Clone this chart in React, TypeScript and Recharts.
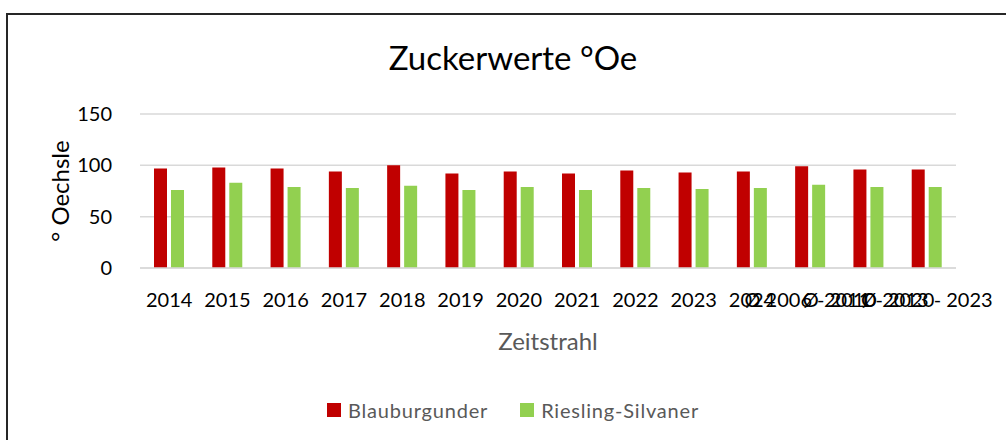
import { BarChart, Bar, XAxis, YAxis, CartesianGrid } from "recharts";

const categories = [
  "2014", "2015", "2016", "2017", "2018", "2019", "2020",
  "2021", "2022", "2023", "2024",
  "Ø 2006 - 2010", "Ø 2011 - 2020", "Ø 2013 - 2023",
];
const blauburgunder = [97, 98, 97, 94, 100, 92, 94, 92, 95, 93, 94, 99, 96, 96];
const rieslingSilvaner = [76, 83, 79, 78, 80, 76, 79, 76, 78, 77, 78, 81, 79, 79];
const yTicks = [0, 50, 100, 150];

const series = [
  { key: "blauburgunder", name: "Blauburgunder", color: "#c00000" },
  { key: "rieslingSilvaner", name: "Riesling-Silvaner", color: "#92d050" },
];

const font = "Lato, 'Open Sans', sans-serif";

export default function App() {
  const data = categories.map((c, i) => ({
    category: c,
    blauburgunder: blauburgunder[i],
    rieslingSilvaner: rieslingSilvaner[i],
  }));

  return (
    <div
      style={{
        position: "absolute",
        left: 0,
        top: 0,
        width: 1006,
        height: 440,
        background: "#fff",
        overflow: "hidden",
        fontFamily: font,
      }}
    >
      <div
        style={{
          position: "absolute",
          left: 6,
          top: 13,
          width: 1100,
          height: 500,
          border: "2px solid #262626",
        }}
      />
      <div
        style={{
          position: "absolute",
          left: 0,
          width: 1006,
          top: 37,
          textAlign: "center",
          fontSize: 33,
          color: "#000",
        }}
      >
        <span style={{ marginLeft: 20 }}>Zuckerwerte °Oe</span>
      </div>
      <div style={{ position: "absolute", left: 0, top: 0 }}>
        <BarChart
          width={1006}
          height={440}
          data={data}
          margin={{ top: 114, right: 50, bottom: 112, left: 0 }}
          barGap={4}
          barSize={13}
          style={{ fontFamily: font }}
        >
          <CartesianGrid vertical={false} stroke="#d9d9d9" strokeWidth={1.5} />
          <XAxis
            dataKey="category"
            interval={0}
            tickLine={false}
            tickSize={0}
            tickMargin={25}
            axisLine={{ stroke: "#d9d9d9", strokeWidth: 1.5 }}
            tick={{ fontSize: 20, fill: "#000" }}
            height={60}
            label={{
              value: "Zeitstrahl",
              position: "insideBottom",
              offset: -22,
              fontSize: 24,
              fill: "#595959",
            }}
          />
          <YAxis
            domain={[0, 150]}
            ticks={yTicks}
            tickLine={false}
            axisLine={false}
            tickMargin={22}
            width={140}
            tick={{ fontSize: 20, fill: "#000" }}
            label={{
              value: "° Oechsle",
              angle: -90,
              position: "insideLeft",
              offset: 60,
              style: { textAnchor: "middle" },
              fontSize: 24,
              fill: "#000",
            }}
          />
          {series.map((s) => (
            <Bar
              key={s.key}
              dataKey={s.key}
              name={s.name}
              fill={s.color}
              isAnimationActive={false}
            />
          ))}
        </BarChart>
      </div>
      <div
        style={{
          position: "absolute",
          left: 0,
          width: 1006,
          top: 398,
          display: "flex",
          justifyContent: "center",
          fontSize: 20,
          letterSpacing: 0.8,
          color: "#595959",
        }}
      >
        <div style={{ display: "flex", alignItems: "center", marginLeft: 20 }}>
          {series.map((s, i) => (
            <div
              key={s.key}
              style={{ display: "flex", alignItems: "center", marginLeft: i ? 32 : 0 }}
            >
              <span
                style={{
                  display: "inline-block",
                  width: 14,
                  height: 14,
                  background: s.color,
                  marginRight: 7,
                }}
              />
              <span>{s.name}</span>
            </div>
          ))}
        </div>
      </div>
    </div>
  );
}
